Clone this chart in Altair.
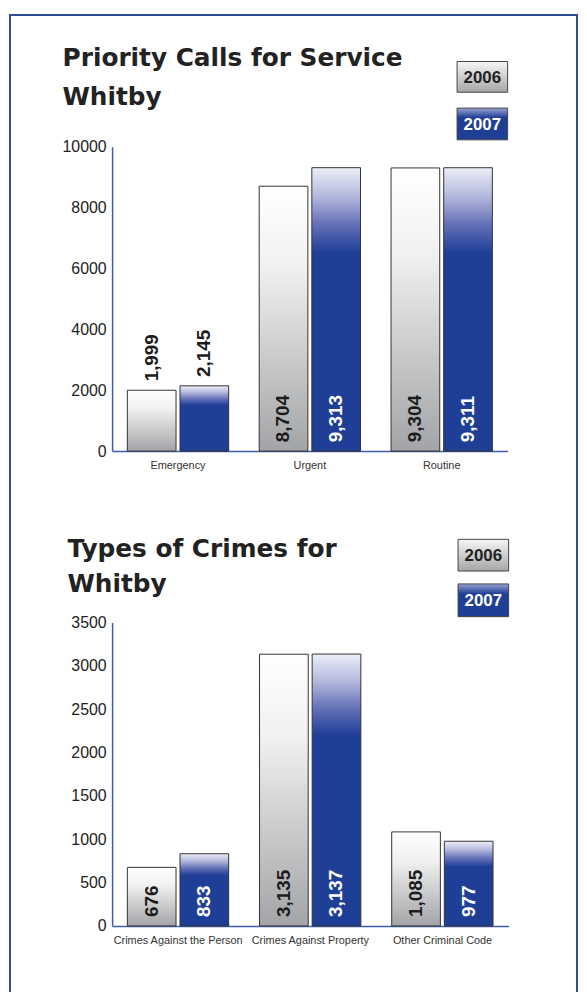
import altair as alt
import pandas as pd

# ---------------- data ----------------
years = ["2006", "2007"]

calls_categories = ["Emergency", "Urgent", "Routine"]
calls_2006 = [1999, 8704, 9304]
calls_2007 = [2145, 9313, 9311]
calls_ticks = [0, 2000, 4000, 6000, 8000, 10000]
calls_title = ["Priority Calls for Service", "Whitby"]

crime_categories = ["Crimes Against the Person", "Crimes Against Property", "Other Criminal Code"]
crime_2006 = [676, 3135, 1085]
crime_2007 = [833, 3137, 977]
crime_ticks = [0, 500, 1000, 1500, 2000, 2500, 3000, 3500]
crime_title = ["Types of Crimes for", "Whitby"]

# ---------------- styles ----------------
BLUE = "#1f3f97"
AXIS_BLUE = "#3f5cb0"
FRAME_BLUE = "#2e4c9c"
DARK = "#1c1c1c"
NUM_FONT = "Liberation Sans"
TITLE_FONT = "DejaVu Sans"


def lin(stops):
    return alt.Gradient(
        gradient="linear", x1=0, x2=0, y1=0, y2=1,
        stops=[alt.GradientStop(offset=o, color=c) for o, c in stops],
    )


grad06 = lin([(0, "#ffffff"), (0.3, "#f1f1f1"), (1, "#a3a4a7")])
grad07 = lin([(0, "#eceef7"), (0.1, "#b4b9dd"), (0.2, "#6470b7"), (0.3, BLUE), (1, BLUE)])
leg06 = lin([(0, "#f6f6f6"), (1, "#a6a6a6")])
leg07 = lin([(0, "#9aa2d3"), (0.3, BLUE), (1, BLUE)])


def long_df(cats, v06, v07):
    rows = []
    for c, a, b in zip(cats, v06, v07):
        rows.append({"cat": c, "year": years[0], "value": a, "label": f"{a:,}"})
        rows.append({"cat": c, "year": years[1], "value": b, "label": f"{b:,}"})
    return pd.DataFrame(rows)


def make_chart(cats, v06, v07, ticks, title, W, H, title_dx, title_offset,
               line_h, leg_y, frame=False):
    df = long_df(cats, v06, v07)
    ymax = ticks[-1]
    base = alt.Chart(df)

    x = alt.X("cat:N", sort=cats,
              scale=alt.Scale(domain=cats, paddingInner=0, paddingOuter=0),
              axis=alt.Axis(title=None, labelAngle=0, ticks=False,
                            domainColor=AXIS_BLUE, domainWidth=1.5,
                            labelFont=NUM_FONT, labelFontSize=11,
                            labelColor="#333333", labelPadding=9))
    xo = alt.XOffset("year:N",
                     scale=alt.Scale(domain=years, paddingInner=0.075, paddingOuter=0.29))
    y = alt.Y("value:Q", scale=alt.Scale(domain=[0, ymax], nice=False),
              axis=alt.Axis(title=None, values=ticks, format="d", ticks=False, grid=False,
                            domainColor=AXIS_BLUE, domainWidth=1.5,
                            labelFont=NUM_FONT, labelFontSize=16,
                            labelColor="#222222", labelPadding=6))

    b06 = base.transform_filter(f"datum.year == '{years[0]}'").mark_bar(
        color=grad06, stroke="#333333", strokeWidth=1).encode(x=x, xOffset=xo, y=y)
    b07 = base.transform_filter(f"datum.year == '{years[1]}'").mark_bar(
        color=grad07, stroke="#333333", strokeWidth=1).encode(x=x, xOffset=xo, y=y)

    labels = base.transform_calculate(
        inside=f"datum.value / {ymax} * {H} > length(datum.label) * 10 + 20"
    ).transform_calculate(
        ypos="datum.inside ? 0 : datum.value"
    ).mark_text(angle=270, align="left", baseline="middle", dx=9,
                font=NUM_FONT, fontSize=19, fontWeight="bold").encode(
        x=x, xOffset=xo,
        y=alt.Y("ypos:Q"),
        text="label:N",
        color=alt.condition(f"datum.inside && datum.year == '{years[1]}'",
                            alt.value("white"), alt.value(DARK)),
    )

    legdf = pd.DataFrame({"year": years})
    lbase = alt.Chart(legdf)
    bw = 51
    (t06, b06y), (t07, b07y) = leg_y
    lr06 = lbase.transform_filter(f"datum.year == '{years[0]}'").mark_rect(
        color=leg06, stroke="#444444", strokeWidth=1).encode(
        x=alt.value(W - bw), x2=alt.value(W), y=alt.value(t06), y2=alt.value(b06y))
    lr07 = lbase.transform_filter(f"datum.year == '{years[1]}'").mark_rect(
        color=leg07, stroke="#444444", strokeWidth=1).encode(
        x=alt.value(W - bw), x2=alt.value(W), y=alt.value(t07), y2=alt.value(b07y))
    lt06 = lbase.transform_filter(f"datum.year == '{years[0]}'").mark_text(
        font=NUM_FONT, fontSize=17, fontWeight="bold", color="#222222",
        align="center", baseline="middle").encode(
        x=alt.value(W - bw / 2), y=alt.value((t06 + b06y) / 2 + 1), text="year:N")
    lt07 = lbase.transform_filter(f"datum.year == '{years[1]}'").mark_text(
        font=NUM_FONT, fontSize=17, fontWeight="bold", color="white",
        align="center", baseline="middle").encode(
        x=alt.value(W - bw / 2), y=alt.value((t07 + b07y) / 2 + 1), text="year:N")

    layers = [b06, b07, labels, lr06, lr07, lt06, lt07]
    if frame:
        fr = alt.Chart(pd.DataFrame({"k": [0]})).mark_rect(
            fillOpacity=0, stroke=FRAME_BLUE, strokeWidth=2).encode(
            x=alt.value(-103), x2=alt.value(469), y=alt.value(-133), y2=alt.value(1000))
        layers = [fr] + layers

    return alt.layer(*layers).properties(
        width=W, height=H,
        title=alt.TitleParams(text=title, anchor="start", frame="group",
                              dx=title_dx, offset=title_offset,
                              font=TITLE_FONT, fontSize=25, fontWeight="bold",
                              color="#222222", lineHeight=line_h),
    )


c1 = make_chart(calls_categories, calls_2006, calls_2007, calls_ticks, calls_title,
                399, 307, -50, -97, 39, ((-86, -55), (-39, -7)), frame=True)
c2 = make_chart(crime_categories, crime_2006, crime_2007, crime_ticks, crime_title,
                400, 306, -45, -59, 36, ((-84, -52), (-39, -6)))

chart = alt.vconcat(c1, c2, spacing=173, bounds="flush").properties(
    padding=1
).configure_view(strokeWidth=0)

chart.save("out.html", embed_options={"renderer": "svg", "actions": False})
